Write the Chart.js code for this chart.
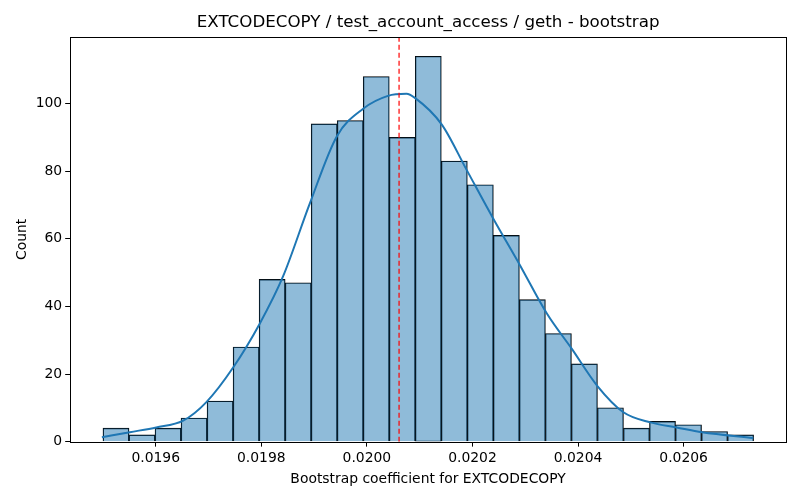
<!DOCTYPE html>
<html>
<head>
<meta charset="utf-8">
<script src="https://cdn.jsdelivr.net/npm/chart.js@4.4.1/dist/chart.umd.min.js"></script>
<style>
  html, body { margin: 0; padding: 0; background: #fff; }
  #wrap { width: 800px; height: 500px; position: relative; }
</style>
</head>
<body>
<div id="wrap"><canvas id="c" width="800" height="500"></canvas></div>
<script>
// ---- data ----
const titleText = "EXTCODECOPY / test_account_access / geth - bootstrap";
const xLabel = "Bootstrap coefficient for EXTCODECOPY";
const yLabel = "Count";

// histogram bins
const binStart = 0.0195001;
const binWidth = 0.0000493;
const counts = [4, 2, 4, 7, 12, 28, 48, 47, 94, 95, 108, 90, 114, 83, 76, 61, 42, 32, 23, 10, 4, 6, 5, 3, 2];

// KDE curve (x, count-scaled density)
const kdeX = [0.019498, 0.019551, 0.019601, 0.019652, 0.019696, 0.019747, 0.019797, 0.019841, 0.019892, 0.019943, 0.019993, 0.020040, 0.020075, 0.020091, 0.020142, 0.020189, 0.020239, 0.020290, 0.020341, 0.020388, 0.020436, 0.020486, 0.020537, 0.020587, 0.020635, 0.020732];
const kdeY = [1.3, 2.8, 4.2, 6.2, 11.7, 22.0, 34.9, 48.8, 70.5, 90.3, 98.5, 102.3, 102.9, 101.7, 93.8, 80.4, 66.1, 52.2, 37.9, 27.5, 16.6, 8.7, 5.7, 4.2, 2.8, 1.1];

// vertical reference (mean) line
const meanX = 0.020061;

// axis ranges and ticks
const xMin = 0.019438, xMax = 0.020794;
const yMin = 0, yMax = 119.7;
const xTicks = [0.0196, 0.0198, 0.0200, 0.0202, 0.0204, 0.0206];
const yTicks = [0, 20, 40, 60, 80, 100];

// ---- build datasets ----
const barData = counts.map((c, i) => ({ x: binStart + (i + 0.5) * binWidth, y: c }));
const kdeData = kdeX.map((x, i) => ({ x: x, y: kdeY[i] }));
const meanData = [{ x: meanX, y: yMin }, { x: meanX, y: yMax }];

const frame = {
  id: 'frame',
  afterLayout(chart) {
    // centre the title over the plotting area, as matplotlib does
    const t = chart.titleBlock, a = chart.chartArea;
    if (t) { t.left = a.left; t.right = a.right; t.width = a.right - a.left; }
  },
  afterDatasetsDraw(chart) {
    const { ctx, chartArea: a } = chart;
    ctx.save();
    ctx.strokeStyle = '#000';
    ctx.lineWidth = 1;
    ctx.strokeRect(Math.round(a.left) + 0.5, Math.round(a.top) + 0.5, Math.round(a.right - a.left), Math.round(a.bottom - a.top));
    ctx.restore();
  }
};

Chart.defaults.font.family = "'DejaVu Sans', sans-serif";
Chart.defaults.color = '#000';

new Chart(document.getElementById('c'), {
  data: {
    datasets: [
      {
        type: 'bar',
        data: barData,
        backgroundColor: 'rgba(31,119,180,0.5)',
        borderColor: '#000',
        borderWidth: 0.7,
        barPercentage: 1,
        categoryPercentage: 1,
        order: 3
      },
      {
        type: 'line',
        data: kdeData,
        borderColor: '#1f77b4',
        borderWidth: 2,
        pointRadius: 0,
        cubicInterpolationMode: 'monotone',
        fill: false,
        order: 2
      },
      {
        type: 'line',
        data: meanData,
        borderColor: '#ff0000',
        borderWidth: 1.2,
        borderDash: [5, 3],
        pointRadius: 0,
        fill: false,
        order: 1
      }
    ]
  },
  options: {
    responsive: false,
    animation: false,
    layout: { padding: { left: 10, right: 14, top: 9, bottom: 8 } },
    plugins: {
      legend: { display: false },
      tooltip: { enabled: false },
      title: {
        display: true,
        text: titleText,
        font: { size: 16.7, weight: 'normal' },
        color: '#000',
        padding: { top: 4, bottom: 4 }
      }
    },
    scales: {
      x: {
        type: 'linear',
        min: xMin,
        max: xMax,
        offset: false,
        afterBuildTicks(axis) { axis.ticks = xTicks.map(v => ({ value: v })); },
        ticks: {
          font: { size: 13.9 },
          color: '#000',
          padding: 3,
          maxRotation: 0,
          callback: v => v.toFixed(4)
        },
        grid: { display: true, offset: false, drawOnChartArea: false, drawTicks: true, tickLength: 5, color: '#000' },
        border: { display: false },
        title: { display: true, text: xLabel, font: { size: 13.9 }, color: '#000', padding: { top: 2 } }
      },
      y: {
        type: 'linear',
        min: yMin,
        max: yMax,
        afterBuildTicks(axis) { axis.ticks = yTicks.map(v => ({ value: v })); },
        ticks: { font: { size: 13.9 }, color: '#000', padding: 3 },
        grid: { display: true, offset: false, drawOnChartArea: false, drawTicks: true, tickLength: 5, color: '#000' },
        border: { display: false },
        title: { display: true, text: yLabel, font: { size: 13.9 }, color: '#000', padding: { bottom: 2 } }
      }
    }
  },
  plugins: [frame]
});
</script>
</body>
</html>
